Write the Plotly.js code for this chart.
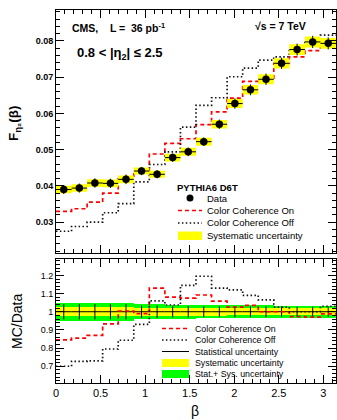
<!DOCTYPE html>
<html><head><meta charset="utf-8">
<script src="https://cdn.plot.ly/plotly-3.0.1.min.js"></script>
<style>html,body{margin:0;padding:0;background:#fff}#c{width:337px;height:420px}</style>
</head><body><div id="c"></div>
<script>
// ---- data (18 bins in beta, 0..pi) ----
const nBins = 18;
const xMax = Math.PI;
const dataVals = [0.0390,0.0394,0.0408,0.0407,0.0418,0.0441,0.0432,0.0478,0.0494,0.0522,0.0570,0.0627,0.0665,0.0694,0.0738,0.0776,0.0797,0.0793];
const ccOn  = [0.0330,0.0337,0.0355,0.0380,0.0420,0.0437,0.0488,0.0517,0.0530,0.0569,0.0604,0.0642,0.0688,0.0694,0.0738,0.0756,0.0773,0.0785];
const ccOff = [0.0275,0.0288,0.0300,0.0326,0.0351,0.0411,0.0459,0.0494,0.0562,0.0622,0.0643,0.0701,0.0725,0.0747,0.0756,0.0776,0.0800,0.0816];
const sysRel  = [0.026,0.026,0.026,0.026,0.026,0.022,0.022,0.022,0.022,0.021,0.021,0.020,0.020,0.020,0.019,0.019,0.019,0.019];
const statRel = [0.042,0.042,0.042,0.042,0.042,0.034,0.034,0.032,0.032,0.030,0.030,0.030,0.030,0.030,0.028,0.028,0.028,0.028];
const ratioOn  = [0.845,0.855,0.870,0.933,1.004,0.990,1.130,1.080,1.075,1.092,1.058,1.025,1.035,1.000,1.000,0.973,0.970,0.988];
const ratioOff = [0.700,0.727,0.730,0.795,0.843,0.930,1.060,1.037,1.145,1.195,1.130,1.120,1.090,1.065,1.025,1.000,1.000,1.030];
const xTickVals = [0,0.5,1,1.5,2,2.5,3];
const xTickText = ['0','0.5','1','1.5','2','2.5','3'];
const yTopTicks = [0.03,0.04,0.05,0.06,0.07,0.08];
const yTopText = ['0.03','0.04','0.05','0.06','0.07','0.08'];
const yBotTicks = [0.7,0.8,0.9,1,1.1,1.2];
const yBotText = ['0.7','0.8','0.9','1','1.1','1.2'];

// ---- derived bin structure ----
const bw = xMax / nBins;
const edges = Array.from({length:nBins+1}, (_, i) => i*bw);
const centers = Array.from({length:nBins}, (_, i) => (i+0.5)*bw);
const stepY = a => a.concat([a[a.length-1]]);
const halfW = centers.map(() => bw/2);

// yellow boxes (top) as polygons
const bx = [], by = [];
dataVals.forEach((v, i) => {
  const s = v*sysRel[i];
  bx.push(edges[i], edges[i+1], edges[i+1], edges[i], edges[i], null);
  by.push(v-s, v-s, v+s, v+s, v-s, null);
});
const totRel = sysRel.map((s, i) => Math.sqrt(s*s + statRel[i]*statRel[i]));

const RED = '#ff0000';
const DOT = '1.5px,2.4px';
const DASH = '4px,3px';
const traces = [
  {x: edges, y: stepY(ccOn), type:'scatter', mode:'lines', line:{shape:'hv', color:RED, width:1.7, dash:DASH}, xaxis:'x', yaxis:'y'},
  {x: edges, y: stepY(ccOff), type:'scatter', mode:'lines', line:{shape:'hv', color:'#111', width:1.7, dash:DOT}, xaxis:'x', yaxis:'y'},
  {x: bx, y: by, type:'scatter', mode:'none', fill:'toself', fillcolor:'#ffff00', xaxis:'x', yaxis:'y', hoverinfo:'skip'},
  {x: centers, y: dataVals, type:'scatter', mode:'markers', marker:{color:'#000', size:7.5},
   error_y:{type:'data', array: dataVals.map((v,i)=>v*statRel[i]*0.75), color:'#000', thickness:1, width:0},
   error_x:{type:'data', array: halfW, color:'#000', thickness:1, width:0}, xaxis:'x', yaxis:'y'},
  // bottom panel
  {x: centers, y: totRel.map(t=>2*t), base: totRel.map(t=>1-t), type:'bar', width: bw, marker:{color:'#00ff00', line:{width:0}}, xaxis:'x2', yaxis:'y2'},
  {x: centers, y: sysRel.map(t=>2*t), base: sysRel.map(t=>1-t), type:'bar', width: bw, marker:{color:'#ffff00', line:{width:0}}, xaxis:'x2', yaxis:'y2'},
  {x: centers, y: centers.map(()=>1), type:'scatter', mode:'markers', marker:{size:1, color:'#000'},
   error_y:{type:'data', array: statRel, color:'#000', thickness:1, width:0},
   error_x:{type:'data', array: halfW, color:'#000', thickness:1, width:0}, xaxis:'x2', yaxis:'y2'},
  {x: edges, y: stepY(ratioOn), type:'scatter', mode:'lines', line:{shape:'hv', color:RED, width:1.7, dash:DASH}, xaxis:'x2', yaxis:'y2'},
  {x: edges, y: stepY(ratioOff), type:'scatter', mode:'lines', line:{shape:'hv', color:'#111', width:1.7, dash:DOT}, xaxis:'x2', yaxis:'y2'}
];

// pixel -> paper helpers (plot area: x 56..336, y 10..383)
const L = 56, R = 336, T = 10, B = 383;
const px = x => (x - L)/(R - L);
const py = y => (B - y)/(B - T);

const FONT = 'Liberation Sans, Arial, Helvetica, sans-serif';
const axisCommon = {showgrid:false, zeroline:false, showline:true, linecolor:'#000', linewidth:1,
  mirror:'allticks', ticks:'inside', tickcolor:'#000', tickwidth:1};

function ann(x, y, text, size, opts) {
  return Object.assign({xref:'paper', yref:'paper', x:px(x), y:py(y), text:text, showarrow:false,
    xanchor:'left', yanchor:'middle', font:{family:FONT, size:size, color:'#000'}, borderpad:0}, opts||{});
}
const annotations = [
  ann(71, 27, 'CMS,\u00a0\u00a0\u00a0 L =\u00a0 36 pb<sup>-1</sup>', 10, {font:{family:FONT,size:10.5,color:'#000',weight:'bold'}}),
  ann(254, 26, '√s = 7 TeV', 10, {font:{family:FONT,size:10.5,color:'#000',weight:'bold'}}),
  ann(76, 54, '0.8 < |η<sub>2</sub>| ≤ 2.5', 13, {font:{family:FONT,size:13,color:'#000',weight:'bold'}}),
  ann(176, 187, 'PYTHIA6 D6T', 9.5, {font:{family:FONT,size:9.5,color:'#000',weight:'bold'}}),
  ann(206, 198, 'Data', 9.5),
  ann(206, 210.5, 'Color Coherence On', 9.5),
  ann(206, 223, 'Color Coherence Off', 9.5),
  ann(206, 235.5, 'Systematic uncertainty', 9.5),
  ann(194, 329, 'Color Coherence On', 8.8),
  ann(194, 340, 'Color Coherence Off', 8.8),
  ann(194, 351.5, 'Statistical uncertainty', 8.8),
  ann(194, 363, 'Systematic uncertainty', 8.8),
  ann(194, 374, 'Stat.+ Sys. uncertainty', 8.8),
  ann(14, 124, 'F<sub>η₂</sub>(β)', 13, {xanchor:'center', textangle:-90, font:{family:FONT,size:13.5,color:'#000',weight:'bold'}}),
  ann(17, 322, 'MC/Data', 14, {xanchor:'center', textangle:-90}),
  ann(195, 411, 'β', 14, {xanchor:'center'})
];

function seg(x0, x1, y, color, dash) {
  return {type:'line', xref:'paper', yref:'paper', x0:px(x0), x1:px(x1), y0:py(y), y1:py(y),
    line:{color:color, width:1.7, dash:dash}};
}
function box(x0, x1, y0, y1, color) {
  return {type:'rect', xref:'paper', yref:'paper', x0:px(x0), x1:px(x1), y0:py(y1), y1:py(y0),
    fillcolor:color, line:{width:0}};
}
const shapes = [
  {type:'circle', xref:'paper', yref:'paper', x0:px(186.5), x1:px(193.5), y0:py(201.5), y1:py(194.5), fillcolor:'#000', line:{width:0}},
  seg(178, 202, 210.5, RED, DASH),
  seg(178, 202, 223, '#111', DOT),
  box(178, 202, 231.5, 240, '#ffff00'),
  seg(162, 189, 328.5, RED, DASH),
  seg(162, 189, 340, '#111', DOT),
  {type:'line', xref:'paper', yref:'paper', x0:px(162), x1:px(189), y0:py(351.5), y1:py(351.5), line:{color:'#000', width:1}},
  box(162, 189, 359, 367, '#ffff00'),
  box(162, 189, 370, 378, '#00ff00')
];

const layout = {
  width:337, height:420, margin:{l:L, r:337-R, t:T, b:420-B},
  paper_bgcolor:'#fff', plot_bgcolor:'#fff', showlegend:false, barmode:'overlay', bargap:0,
  font:{family:FONT, color:'#000'},
  xaxis: Object.assign({}, axisCommon, {domain:[0,1], anchor:'y', range:[0, xMax], showticklabels:false,
    tickmode:'linear', tick0:0, dtick:0.5, ticklen:8, minor:{ticks:'inside', dtick:0.1, tick0:0, ticklen:4, tickcolor:'#000'}}),
  yaxis: Object.assign({}, axisCommon, {domain:[(B-253)/(B-T), 1], anchor:'x', range:[0.0215, 0.0885],
    tickvals:yTopTicks, ticktext:yTopText, ticklen:8, tickfont:{family:FONT, size:9, weight:'bold'},
    minor:{ticks:'inside', dtick:0.002, tick0:0, ticklen:4, tickcolor:'#000'}}),
  xaxis2: Object.assign({}, axisCommon, {domain:[0,1], anchor:'y2', matches:'x', range:[0, xMax],
    tickvals:xTickVals, ticktext:xTickText, ticklen:8, tickfont:{family:FONT, size:11},
    minor:{ticks:'inside', dtick:0.1, tick0:0, ticklen:4, tickcolor:'#000'}}),
  yaxis2: Object.assign({}, axisCommon, {domain:[0, (B-259)/(B-T)], anchor:'x2', range:[0.608, 1.29],
    tickvals:yBotTicks, ticktext:yBotText, ticklen:8, tickfont:{family:FONT, size:9},
    minor:{ticks:'inside', dtick:0.02, tick0:0, ticklen:4, tickcolor:'#000'}}),
  annotations: annotations,
  shapes: shapes
};
Plotly.newPlot('c', traces, layout, {staticPlot:true, displayModeBar:false});
</script></body></html>
